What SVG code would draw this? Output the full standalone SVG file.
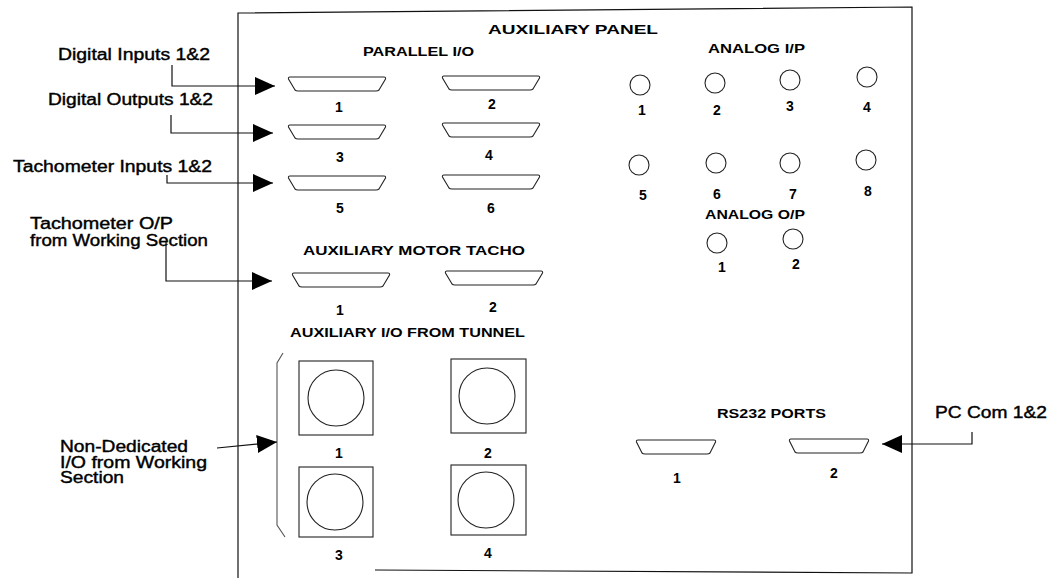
<svg xmlns="http://www.w3.org/2000/svg" xmlns:xlink="http://www.w3.org/1999/xlink" width="1050" height="579" viewBox="0 0 1050 579">
<style>
.lbl{font-family:"Liberation Sans",Arial,sans-serif;font-size:16px;fill:#000;stroke:#000;stroke-width:0.4}
.hd{font-family:"Liberation Sans",Arial,sans-serif;font-weight:bold;font-size:13.5px;fill:#000}
.num{font-family:"Liberation Sans",Arial,sans-serif;font-weight:bold;font-size:14px;fill:#000;text-anchor:middle}
.ln{fill:none;stroke:#111;stroke-width:1.2}
.sh{fill:#fff;stroke:#222;stroke-width:1.1}
.brk{fill:none;stroke:#555;stroke-width:1.1}
</style>
<defs>
<path id="dsub" d="M2,0 L96,0 Q98,0 97.5,2 L91,13 Q90,14 88,14 L10,14 Q8,14 7,13 L0.5,2 Q0,0 2,0 Z"/>
<path id="dsubs" d="M2,0 L78,0 Q80,0 79.5,2 L74,13 Q73,14 71,14 L9,14 Q7,14 6,13 L0.5,2 Q0,0 2,0 Z"/>
<marker id="arr" markerUnits="userSpaceOnUse" markerWidth="20" markerHeight="18" refX="20" refY="9" orient="auto">
<path d="M0,0 L20,9 L0,18 Z" fill="#000"/>
</marker>
</defs>

<g id="panel">
<path class="ln" d="M238,578 L238,13 L912,7 L912,573 L375,570" stroke-width="1.3"/>
<text class="hd" x="488" y="34" font-size="17" textLength="170" lengthAdjust="spacingAndGlyphs">AUXILIARY PANEL</text>
</g>

<g id="parallel-io">
<text class="hd" x="363" y="56" textLength="111" lengthAdjust="spacingAndGlyphs">PARALLEL  I/O</text>
<use xlink:href="#dsub" class="sh" x="288" y="77"/>
<use xlink:href="#dsub" class="sh" x="442" y="76"/>
<use xlink:href="#dsub" class="sh" x="288" y="125"/>
<use xlink:href="#dsub" class="sh" x="442" y="123"/>
<use xlink:href="#dsub" class="sh" x="288" y="176"/>
<use xlink:href="#dsub" class="sh" x="442" y="175"/>
<text class="num" x="339" y="112">1</text>
<text class="num" x="492" y="109">2</text>
<text class="num" x="340" y="162">3</text>
<text class="num" x="489" y="160">4</text>
<text class="num" x="340" y="213">5</text>
<text class="num" x="491" y="213">6</text>
</g>

<g id="analog-ip">
<text class="hd" x="708" y="53" textLength="97" lengthAdjust="spacingAndGlyphs">ANALOG  I/P</text>
<circle class="sh" cx="640" cy="85" r="10"/>
<circle class="sh" cx="715" cy="83" r="10"/>
<circle class="sh" cx="790" cy="80" r="10"/>
<circle class="sh" cx="867" cy="77" r="10"/>
<circle class="sh" cx="639" cy="165" r="10"/>
<circle class="sh" cx="716" cy="163" r="10"/>
<circle class="sh" cx="790" cy="163" r="10"/>
<circle class="sh" cx="866" cy="160" r="10"/>
<text class="num" x="642" y="115">1</text>
<text class="num" x="717" y="115">2</text>
<text class="num" x="790" y="111">3</text>
<text class="num" x="867" y="112">4</text>
<text class="num" x="643" y="200">5</text>
<text class="num" x="717" y="199">6</text>
<text class="num" x="793" y="199">7</text>
<text class="num" x="868" y="196">8</text>
</g>

<g id="analog-op">
<text class="hd" x="705" y="219" textLength="100" lengthAdjust="spacingAndGlyphs">ANALOG  O/P</text>
<circle class="sh" cx="717" cy="243" r="10"/>
<circle class="sh" cx="793" cy="239" r="10"/>
<text class="num" x="722" y="272">1</text>
<text class="num" x="796" y="269">2</text>
</g>

<g id="motor-tacho">
<text class="hd" x="303" y="255" font-size="14.5" textLength="222" lengthAdjust="spacingAndGlyphs">AUXILIARY  MOTOR  TACHO</text>
<use xlink:href="#dsub" class="sh" x="292" y="273"/>
<use xlink:href="#dsub" class="sh" x="445" y="271"/>
<text class="num" x="340" y="315">1</text>
<text class="num" x="493" y="312">2</text>
</g>

<g id="aux-io-tunnel">
<text class="hd" x="290" y="337" font-size="15.5" textLength="235" lengthAdjust="spacingAndGlyphs">AUXILIARY I/O FROM TUNNEL</text>
<rect class="sh" x="299" y="361" width="74" height="74"/>
<circle class="sh" cx="336" cy="398" r="28"/>
<rect class="sh" x="451" y="359" width="75" height="74"/>
<circle class="sh" cx="487" cy="396" r="28"/>
<rect class="sh" x="299" y="467" width="74" height="70"/>
<circle class="sh" cx="335" cy="502" r="28"/>
<rect class="sh" x="451" y="465" width="75" height="70"/>
<circle class="sh" cx="486" cy="500" r="28"/>
<text class="num" x="339" y="458">1</text>
<text class="num" x="488" y="458">2</text>
<text class="num" x="339" y="560">3</text>
<text class="num" x="488" y="558">4</text>
<polyline class="brk" points="283,353 277,363 277,525 285,537"/>
</g>

<g id="rs232">
<text class="hd" x="717" y="418" textLength="109" lengthAdjust="spacingAndGlyphs">RS232  PORTS</text>
<use xlink:href="#dsubs" class="sh" x="636" y="440"/>
<use xlink:href="#dsubs" class="sh" x="789" y="439"/>
<text class="num" x="677" y="483">1</text>
<text class="num" x="834" y="478">2</text>
</g>

<g id="labels">
<text class="lbl" x="58" y="60" textLength="152" lengthAdjust="spacingAndGlyphs">Digital Inputs 1&amp;2</text>
<text class="lbl" x="48" y="105" textLength="165" lengthAdjust="spacingAndGlyphs">Digital Outputs 1&amp;2</text>
<text class="lbl" x="13" y="172" textLength="199" lengthAdjust="spacingAndGlyphs">Tachometer Inputs 1&amp;2</text>
<text class="lbl" x="30" y="229" font-size="12.5" textLength="143" lengthAdjust="spacingAndGlyphs">Tachometer O/P</text>
<text class="lbl" x="30" y="246" font-size="12.5" textLength="178" lengthAdjust="spacingAndGlyphs">from Working Section</text>
<text class="lbl" x="60" y="452" textLength="128" lengthAdjust="spacingAndGlyphs">Non-Dedicated</text>
<text class="lbl" x="60" y="468" textLength="147" lengthAdjust="spacingAndGlyphs">I/O from Working</text>
<text class="lbl" x="60" y="483" textLength="64" lengthAdjust="spacingAndGlyphs">Section</text>
<text class="lbl" x="935" y="418" font-size="17" textLength="112" lengthAdjust="spacingAndGlyphs">PC Com 1&amp;2</text>
</g>

<g id="connectors">
<polyline class="ln" points="172,65 172,86 275,86" marker-end="url(#arr)"/>
<polyline class="ln" points="171,115 171,133 273,133" marker-end="url(#arr)"/>
<polyline class="ln" points="167,175 167,183 273,183" marker-end="url(#arr)"/>
<polyline class="ln" points="166,242 166,281 272,281" marker-end="url(#arr)"/>
<polyline class="ln" points="217,448 277,442" marker-end="url(#arr)"/>
<polyline class="ln" points="972,432 972,444 882,444" marker-end="url(#arr)"/>
</g>
</svg>
